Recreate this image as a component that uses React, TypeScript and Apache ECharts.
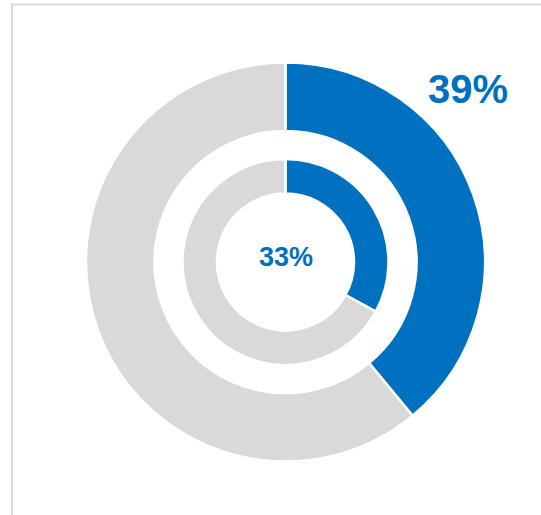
import React, { useEffect, useRef } from "react";
import * as echarts from "echarts";

const outerValues = [39, 61];
const innerValues = [33, 67];
const sliceNames = ["Yes", "Other"];
const outerLabel = "39%";
const innerLabel = "33%";

const BLUE = "#0070C0";
const GRAY = "#D9D9D9";

export default function App() {
  const ref = useRef<HTMLDivElement>(null);
  useEffect(() => {
    if (!ref.current) return;
    const chart = echarts.init(ref.current, null, { renderer: "svg" });
    const mk = (vals: number[]) =>
      vals.map((v, i) => ({
        name: sliceNames[i],
        value: v,
        itemStyle: { color: i === 0 ? BLUE : GRAY },
      }));
    chart.setOption({
      animation: false,
      backgroundColor: "#ffffff",
      graphic: [
        {
          type: "rect",
          shape: { x: 12, y: 4.5, width: 600, height: 600 },
          style: { fill: "none", stroke: "#D9D9D9", lineWidth: 2 },
          silent: true,
        },
        {
          type: "text",
          x: 468,
          y: 89,
          style: {
            text: outerLabel,
            fill: BLUE,
            font: "bold 40px 'Liberation Sans', Arial, sans-serif",
            textAlign: "center",
            textVerticalAlign: "middle",
          },
        },
        {
          type: "text",
          x: 286,
          y: 257,
          style: {
            text: innerLabel,
            fill: BLUE,
            font: "bold 27px 'Liberation Sans', Arial, sans-serif",
            textAlign: "center",
            textVerticalAlign: "middle",
          },
        },
      ],
      series: [
        {
          type: "pie",
          center: [285.5, 262],
          radius: [131, 199.5],
          startAngle: 90,
          clockwise: true,
          label: { show: false },
          labelLine: { show: false },
          emphasis: { disabled: true },
          itemStyle: { borderColor: "#ffffff", borderWidth: 2.5 },
          data: mk(outerValues),
        },
        {
          type: "pie",
          center: [285.5, 262],
          radius: [68.5, 103],
          startAngle: 90,
          clockwise: true,
          label: { show: false },
          labelLine: { show: false },
          emphasis: { disabled: true },
          itemStyle: { borderColor: "#ffffff", borderWidth: 2.5 },
          data: mk(innerValues),
        },
      ],
    });
    return () => chart.dispose();
  }, []);
  return (
    <div
      ref={ref}
      style={{ position: "absolute", left: 0, top: 0, width: 541, height: 515 }}
    />
  );
}
